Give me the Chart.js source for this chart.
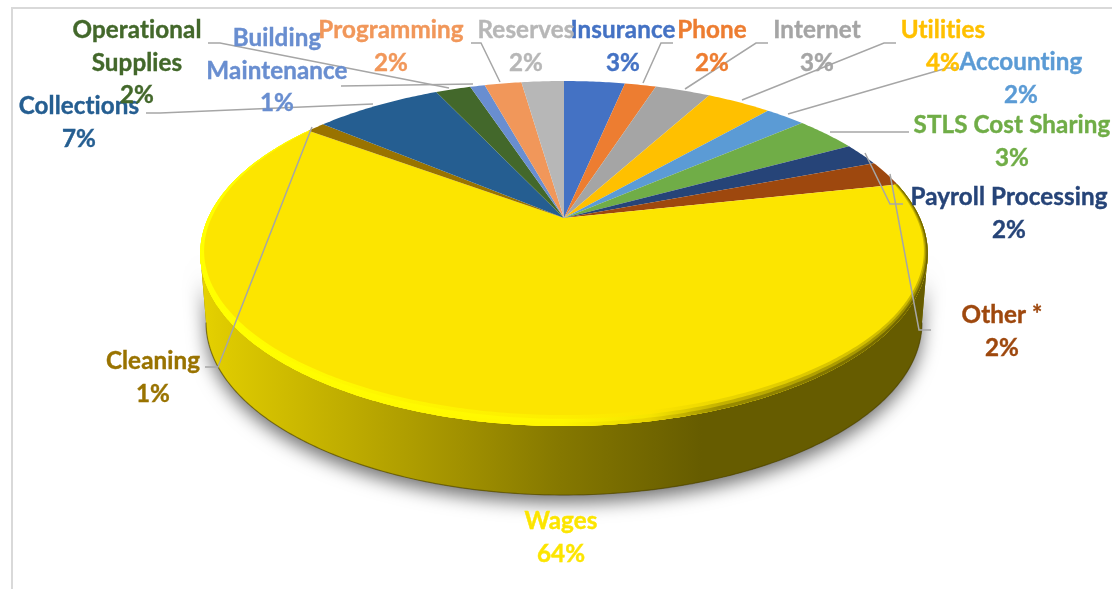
<!DOCTYPE html>
<html>
<head>
<meta charset="utf-8">
<style>
  html, body { margin: 0; padding: 0; background: #fff; }
  #wrap { position: relative; width: 1112px; height: 589px; overflow: hidden; }
  #frame { position: absolute; left: 11px; top: 7px; width: 1110px; height: 590px; border: 2px solid #d9d9d9; box-sizing: border-box; }
</style>
<script src="https://cdn.jsdelivr.net/npm/chart.js@4"></script>
</head>
<body>
<div id="wrap">
  <div id="frame"></div>
  <canvas id="costChart" width="1112" height="589" style="position:absolute;left:0;top:0"></canvas>
</div>
<script>
// values, the printed labels are these rounded
const categories = ['Insurance', 'Phone', 'Internet', 'Utilities', 'Accounting', 'STLS Cost Sharing', 'Payroll Processing',
    'Other *', 'Wages', 'Cleaning', 'Collections', 'Operational Supplies', 'Building Maintenance', 'Programming', 'Reserves'];
const shares = [3.3, 1.7, 3.0, 3.5, 2.2, 3.4, 2.1, 2.4, 63.5, 1.0, 6.9, 1.9, 0.8, 2.0, 2.3];
const sliceColors = ['#4472C4', '#ED7D31', '#A5A5A5', '#FFC000', '#5B9BD5', '#70AD47', '#264478',
    '#9E480E', '#FCE500', '#997300', '#255E91', '#43682B', '#698ED0', '#F1975A', '#B7B7B7'];

// label layout: line breaks, centre x and the baseline of each line
const labelLines = [['Insurance'], ['Phone'], ['Internet'], ['Utilities'], ['Accounting'], ['STLS Cost Sharing'], ['Payroll Processing'],
    ['Other *'], ['Wages'], ['Cleaning'], ['Collections'], ['Operational', 'Supplies'], ['Building', 'Maintenance'], ['Programming'], ['Reserves']];
const labelX = [623, 712, 817, 943, 1021, 1012, 1009, 1002, 561, 153, 79, 137, 277, 391, 526];
const labelY = [38, 38, 38, 38, 70, 133, 205, 323, 529, 369, 114, 38, 46, 38, 38];
const lineGap = 32.5;

const leaderLines = [
    [[673, 43], [661, 43], [643, 83]],
    [[768, 43], [756, 43], [685, 89]],
    [[896, 43], [884, 43], [742, 100]],
    [[959, 68], [947, 68], [788, 114]],
    [[909, 132], [830, 132]],
    [[903, 204], [890, 204], [865, 153]],
    [[931, 330], [919, 330], [890, 174]],
    [[205, 367], [218, 367], [312, 127]],
    [[146, 113], [160, 113], [373, 104]],
    [[208, 43], [220, 43], [449, 88]],
    [[341, 86], [473, 84]],
    [[471, 43], [481, 43], [500, 82]]
];

// the tilted disc: circle seen in perspective
const cx = 564, cy = 218, rx = 356, ry = 165.2, tilt = 0.206;
const wallDrop = 69, wallShrink = 0.984;
const rimRight = Math.asin(tilt), rimLeft = Math.PI - rimRight;

const project = (angle) => {
    const u = Math.cos(angle), v = Math.sin(angle);
    const w = 1 - tilt * v;
    return [cx + rx * u / w, cy + ry * v / w];
};
const projectBottom = (angle) => {
    const p = project(angle);
    return [cx + (p[0] - cx) * wallShrink, p[1] + wallDrop];
};

const horizontalGradient = (ctx, stops) => {
    const g = ctx.createLinearGradient(200, 0, 928, 0);
    stops.forEach(([x, c]) => g.addColorStop((x - 200) / 728, c));
    return g;
};

const traceAngles = (ctx, from, to, fn, first) => {
    const steps = Math.max(2, Math.ceil(Math.abs(to - from) * 90));
    for (let i = 0; i <= steps; i++) {
        const p = fn(from + (to - from) * i / steps);
        if (i === 0 && first) ctx.moveTo(p[0], p[1]);
        else ctx.lineTo(p[0], p[1]);
    }
};

const drawWall = (ctx) => {
    ctx.save();
    ctx.shadowColor = 'rgba(0,0,0,0.55)';
    ctx.shadowBlur = 18;
    ctx.shadowOffsetY = 8;
    ctx.beginPath();
    traceAngles(ctx, rimRight, rimLeft, project, true);
    traceAngles(ctx, rimLeft, rimRight, projectBottom, false);
    ctx.closePath();
    ctx.fillStyle = '#807300';
    ctx.fill();
    ctx.restore();

    ctx.beginPath();
    traceAngles(ctx, rimRight, rimLeft, project, true);
    traceAngles(ctx, rimLeft, rimRight, projectBottom, false);
    ctx.closePath();
    ctx.fillStyle = horizontalGradient(ctx, [[200, '#E6D200'], [228, '#DDC900'], [357, '#BCAA00'], [464, '#A09000'],
        [560, '#857800'], [702, '#665C00'], [928, '#665C00']]);
    ctx.fill();

    ctx.beginPath();
    traceAngles(ctx, rimRight, rimLeft, projectBottom, true);
    ctx.strokeStyle = 'rgba(70,60,0,0.55)';
    ctx.lineWidth = 1.2;
    ctx.stroke();
};

// widest band first, so the darkest colours end up on the very edge
const drawBevel = (ctx, arc) => {
    const bands = [
        [1, [[200, '#FFFF00'], [560, '#FDEE00'], [650, '#FCE500'], [720, '#EBD600'], [928, '#C9B600']]],
        [0.66, [[200, '#FFFF00'], [560, '#FFF700'], [650, '#F6E400'], [720, '#C4B200'], [928, '#9A8C00']]],
        [0.33, [[200, '#FFFF00'], [560, '#FFF500'], [650, '#E8D400'], [720, '#9A8C00'], [928, '#6B6000']]]
    ];
    bands.forEach(([depth, stops]) => {
        const inset = (a) => {
            const p = project(a);
            return [p[0] - 4 * depth * Math.cos(a), p[1] - 10 * depth * Math.max(Math.sin(a), 0) - depth];
        };
        ctx.beginPath();
        traceAngles(ctx, arc.startAngle, arc.endAngle, project, true);
        traceAngles(ctx, arc.endAngle, arc.startAngle, inset, false);
        ctx.closePath();
        ctx.fillStyle = horizontalGradient(ctx, stops);
        ctx.fill();
    });
};

const tiltedPie = {
    id: 'tiltedPie',
    beforeDatasetDraw(chart) {
        const ctx = chart.ctx;
        const arcs = chart.getDatasetMeta(0).data;
        drawWall(ctx);
        arcs.forEach((arc) => {
            ctx.beginPath();
            ctx.moveTo(cx, cy);
            traceAngles(ctx, arc.startAngle, arc.endAngle, project, false);
            ctx.closePath();
            ctx.fillStyle = arc.options.backgroundColor;
            ctx.fill();
        });
        drawBevel(ctx, arcs[categories.indexOf('Wages')]);
        return false;
    },
    afterDraw(chart) {
        const ctx = chart.ctx;
        ctx.save();
        ctx.strokeStyle = '#A6A6A6';
        ctx.lineWidth = 1.5;
        leaderLines.forEach((pts) => {
            ctx.beginPath();
            pts.forEach((p, i) => (i ? ctx.lineTo(p[0], p[1]) : ctx.moveTo(p[0], p[1])));
            ctx.stroke();
        });
        ctx.font = 'bold 24.2px Lato';
        ctx.letterSpacing = '0.1px';
        ctx.textAlign = 'center';
        ctx.textBaseline = 'alphabetic';
        ctx.lineWidth = 0.4;
        categories.forEach((name, i) => {
            ctx.fillStyle = sliceColors[i];
            ctx.strokeStyle = sliceColors[i];
            const lines = labelLines[i].concat(Math.round(shares[i]) + '%');
            lines.forEach((text, n) => {
                ctx.fillText(text, labelX[i], labelY[i] + n * lineGap);
                ctx.strokeText(text, labelX[i], labelY[i] + n * lineGap);
            });
        });
        ctx.restore();
    }
};

new Chart(document.getElementById('costChart'), {
    type: 'pie',
    data: {
        labels: categories,
        datasets: [{ data: shares, backgroundColor: sliceColors, borderWidth: 0 }]
    },
    options: {
        responsive: false,
        animation: false,
        plugins: { legend: { display: false }, tooltip: { enabled: false } }
    },
    plugins: [tiltedPie]
});
</script>
</body>
</html>
